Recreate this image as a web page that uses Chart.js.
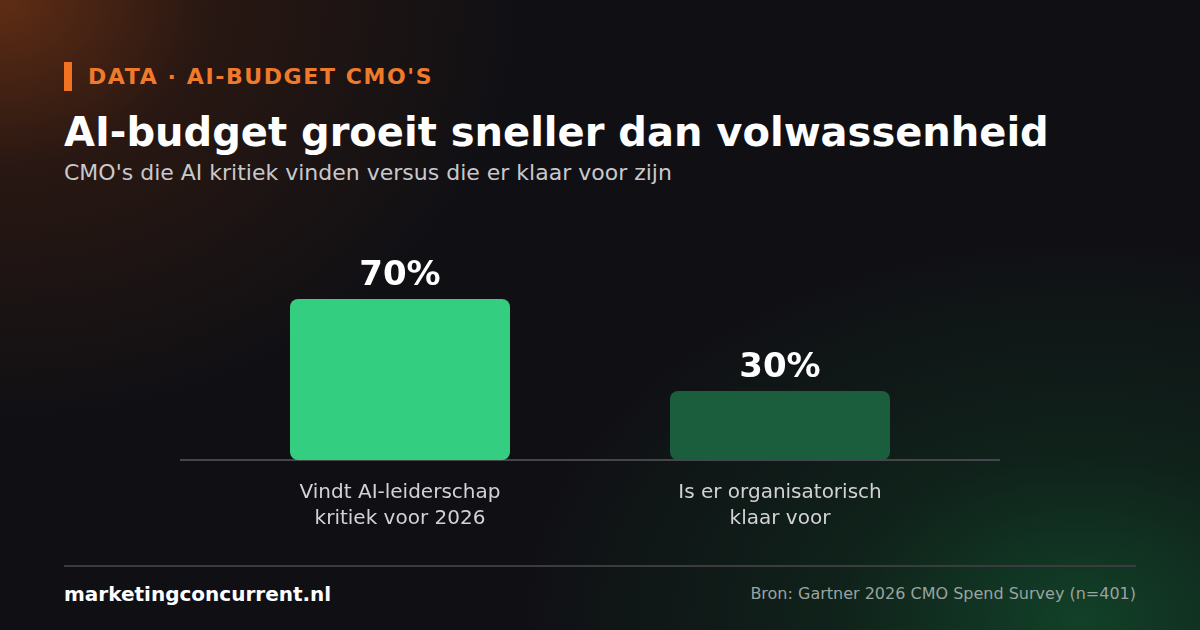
<!DOCTYPE html>
<html><head><meta charset="utf-8">
<script src="https://cdn.jsdelivr.net/npm/chart.js@4.4.0/dist/chart.umd.min.js"></script>
<style>
html,body{margin:0;padding:0;}
body{width:1200px;height:630px;overflow:hidden;position:relative;font-family:"DejaVu Sans",sans-serif;
background:
radial-gradient(ellipse 520px 420px at 0px 0px, rgba(110,50,20,0.85) 0%, rgba(70,32,16,0.45) 40%, rgba(16,16,20,0) 100%),
radial-gradient(ellipse 560px 380px at 1080px 620px, rgba(18,70,42,0.9) 0%, rgba(15,50,32,0.5) 45%, rgba(16,16,20,0) 100%),
#101014;}
#kbar{position:absolute;left:64px;top:62px;width:8px;height:29px;background:#f07222;}
#kicker{position:absolute;left:88px;top:63px;font-size:22px;font-weight:bold;letter-spacing:1.6px;color:#f07a2c;line-height:28px;}
#title{position:absolute;left:64px;top:108px;font-size:40px;font-weight:bold;color:#ffffff;line-height:48px;}
#sub{position:absolute;left:64px;top:159px;font-size:22px;color:#c9c9cc;line-height:28px;}
#hr{position:absolute;left:64px;top:565px;width:1072px;height:2px;background:#3b3b40;}
#site{position:absolute;left:64px;top:581px;font-size:20px;font-weight:bold;color:#ffffff;line-height:26px;}
#src{position:absolute;right:64px;top:583px;font-size:16px;color:#9aa3a0;line-height:22px;}
canvas{position:absolute;left:0;top:0;}
</style></head>
<body>
<div id="kbar"></div>
<div id="kicker">DATA · AI-BUDGET CMO'S</div>
<div id="title">AI-budget groeit sneller dan volwassenheid</div>
<div id="sub">CMO's die AI kritiek vinden versus die er klaar voor zijn</div>
<div id="hr"></div>
<div id="site">marketingconcurrent.nl</div>
<div id="src">Bron: Gartner 2026 CMO Spend Survey (n=401)</div>
<canvas id="c" width="1200" height="630"></canvas>
<script>
const categories = [["Vindt AI-leiderschap","kritiek voor 2026"],["Is er organisatorisch","klaar voor"]];
const values = [70, 30];
const valueLabels = ["70%", "30%"];
const barColors = ["#33ce7f", "#1a5e3e"];

const valueLabelPlugin = {
  id: 'valueLabels',
  beforeDatasetsDraw(chart){
    const ctx = chart.ctx;
    const a = chart.chartArea;
    const y = chart.scales.y.getPixelForValue(0);
    ctx.save();
    ctx.strokeStyle = '#45454b';
    ctx.lineWidth = 2;
    ctx.beginPath();
    ctx.moveTo(a.left - 30, y);
    ctx.lineTo(a.right + 30, y);
    ctx.stroke();
    ctx.restore();
  },
  afterDatasetsDraw(chart){
    const ctx = chart.ctx;
    const meta = chart.getDatasetMeta(0);
    ctx.save();
    ctx.font = 'bold 34px "DejaVu Sans", sans-serif';
    ctx.fillStyle = '#ffffff';
    ctx.textAlign = 'center';
    ctx.textBaseline = 'alphabetic';
    meta.data.forEach((bar, i) => {
      ctx.fillText(valueLabels[i], bar.x, bar.y - 14);
    });
    ctx.restore();
  }
};

new Chart(document.getElementById('c'), {
  type: 'bar',
  data: {
    labels: categories,
    datasets: [{
      data: values,
      backgroundColor: barColors,
      borderRadius: 8,
      borderSkipped: false,
      categoryPercentage: 1,
      barPercentage: 220/380
    }]
  },
  options: {
    responsive: false,
    animation: false,
    layout: { padding: { left: 210, right: 230, top: 230, bottom: 90 } },
    plugins: { legend: { display: false }, tooltip: { enabled: false } },
    scales: {
      x: {
        grid: { display: false, drawTicks: false },
        border: { display: false },
        ticks: { color: '#d2d2d6', font: { family: '"DejaVu Sans", sans-serif', size: 20, lineHeight: 1.3 }, padding: 20, maxRotation: 0 },
        afterFit(scale){ scale.height = 80; }
      },
      y: { display: false, min: 0, max: 100 }
    }
  },
  plugins: [valueLabelPlugin]
});
</script>
</body></html>
